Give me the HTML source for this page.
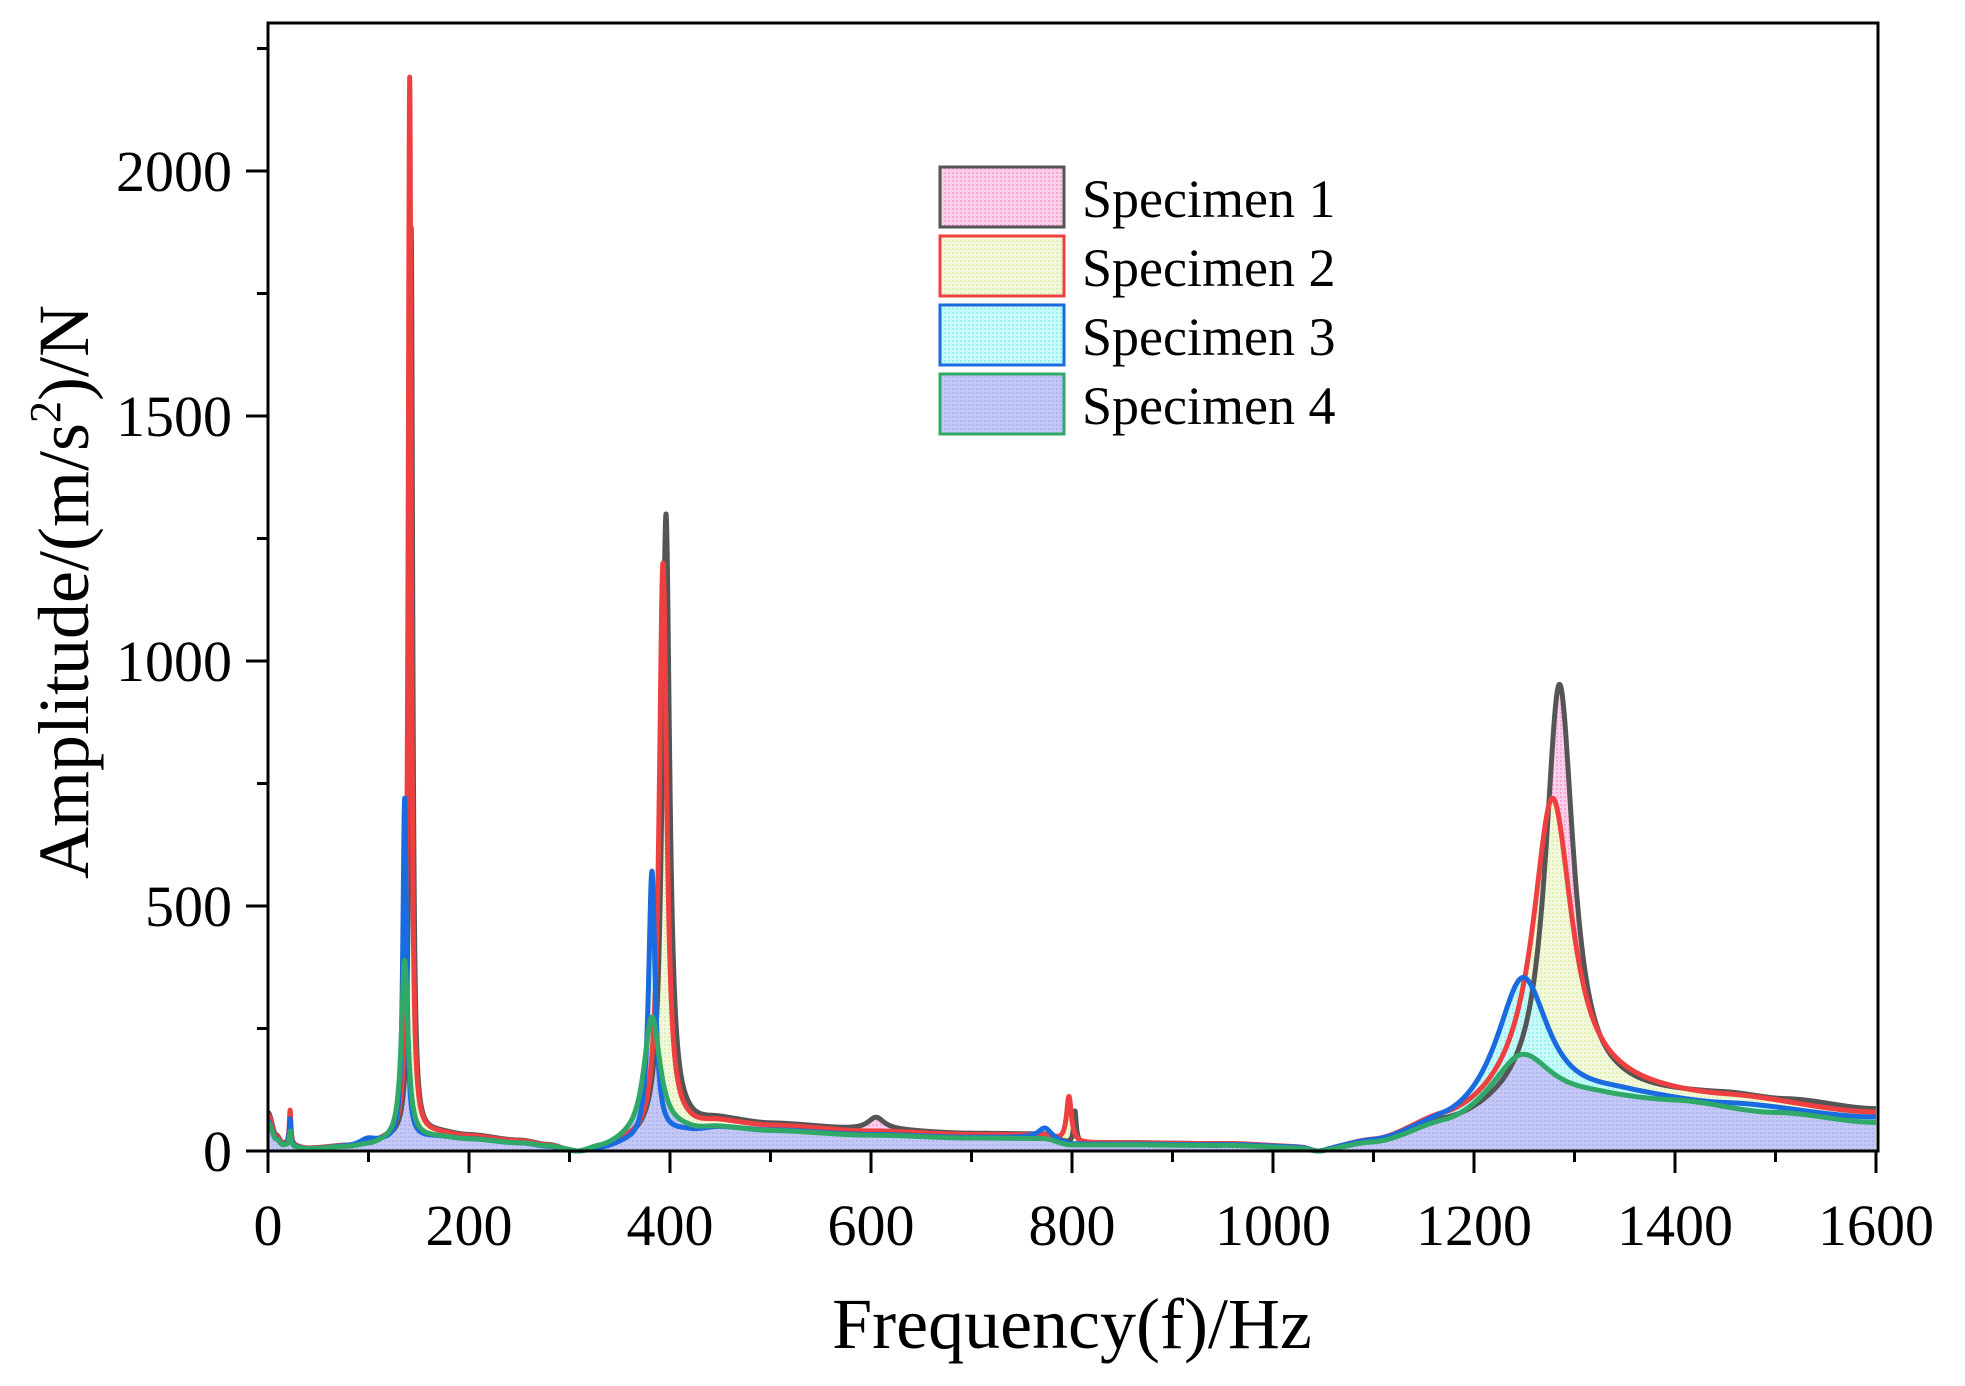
<!DOCTYPE html>
<html><head><meta charset="utf-8"><style>
html,body{margin:0;padding:0;background:#fff;}
svg{display:block;}
text{font-family:"Liberation Serif",serif;fill:#000;}
</style></head><body>
<svg id="s" width="1965" height="1386" viewBox="0 0 1965 1386" xmlns="http://www.w3.org/2000/svg">
<defs>
<pattern id="p1" width="4" height="4" patternUnits="userSpaceOnUse"><rect width="4" height="4" fill="#fbd0ea"/><rect width="2" height="2" fill="#f7a8d8"/></pattern>
<pattern id="p2" width="4" height="4" patternUnits="userSpaceOnUse"><rect width="4" height="4" fill="#f2f8dc"/><rect width="2" height="2" fill="#e2f0b8"/></pattern>
<pattern id="p3" width="4" height="4" patternUnits="userSpaceOnUse"><rect width="4" height="4" fill="#c8fafa"/><rect width="2" height="2" fill="#a0f2f2"/></pattern>
<pattern id="p4" width="4" height="4" patternUnits="userSpaceOnUse"><rect width="4" height="4" fill="#c4c8f6"/><rect width="2" height="2" fill="#b4b6ee"/></pattern>
</defs>
<g id="fills"></g>
<g id="lines"></g>
<rect x="268" y="23" width="1610" height="1128" fill="none" stroke="#000" stroke-width="3"/>
<g id="ticks" stroke="#000" stroke-width="3"></g>
<g font-size="58" text-anchor="end">
<text x="232" y="1171">0</text>
<text x="232" y="926">500</text>
<text x="232" y="681">1000</text>
<text x="232" y="436">1500</text>
<text x="232" y="191">2000</text>
</g>
<g font-size="58" text-anchor="middle">
<text x="268" y="1245">0</text>
<text x="469" y="1245">200</text>
<text x="670" y="1245">400</text>
<text x="871" y="1245">600</text>
<text x="1072" y="1245">800</text>
<text x="1273" y="1245">1000</text>
<text x="1474" y="1245">1200</text>
<text x="1675" y="1245">1400</text>
<text x="1876" y="1245">1600</text>
</g>
<text x="1072" y="1348" font-size="72" text-anchor="middle">Frequency(f)/Hz</text>
<text transform="translate(88,592) rotate(-90)" font-size="72" text-anchor="middle">Amplitude/(m/s<tspan font-size="44" dy="-28">2</tspan><tspan dy="28">)/N</tspan></text>
<g stroke-width="3">
<rect x="940" y="167" width="124" height="60" fill="url(#p1)" stroke="#555"/>
<rect x="940" y="236" width="124" height="60" fill="url(#p2)" stroke="#ee4040"/>
<rect x="940" y="305" width="124" height="60" fill="url(#p3)" stroke="#1a6be0"/>
<rect x="940" y="374" width="124" height="60" fill="url(#p4)" stroke="#30a868"/>
</g>
<g font-size="54">
<text x="1082" y="217">Specimen 1</text>
<text x="1082" y="286">Specimen 2</text>
<text x="1082" y="355">Specimen 3</text>
<text x="1082" y="424">Specimen 4</text>
</g>
</svg>
<script>
var NS="http://www.w3.org/2000/svg";
function X(f){return 268+f*1.005;}
function Y(v){return 1151-v*0.49;}
function interp(pts,f){
 if(f<=pts[0][0])return pts[0][1];
 for(var i=1;i<pts.length;i++){if(f<=pts[i][0]){var a=pts[i-1],b=pts[i];var t=(f-a[0])/(b[0]-a[0]);t=t*t*(3-2*t);return a[1]+(b[1]-a[1])*t;}}
 return pts[pts.length-1][1];
}
var baseL=[[0,60],[8,25],[15,12],[40,4],[80,8],[100,12],[120,18],[170,28],[200,24],[250,16],[280,9],[300,2],[310,0],[330,5],[360,15],[420,40],[450,48],[500,42],[600,33],[700,27],[770,26],[800,12],[850,12],[950,10],[1030,4],[1045,0]];
var S=[
 {c:"#555555",p:"url(#p1)",k:1.3,pk:[[22,40,1],[142.5,1860,1.8],[396,1270,4.5],[605,25,10],[803,65,1.5],[1285,865,17]],
  r:[[1045,0],[1100,14],[1170,50],[1250,80],[1350,112],[1450,112],[1510,102],[1600,84]]},
 {c:"#ee4040",p:"url(#p2)",k:1.2,pk:[[22,70,1],[141,2170,1.8],[393,1175,4.5],[797,95,3],[1278,635,24]],
  r:[[1045,0],[1100,14],[1170,50],[1250,80],[1350,112],[1450,105],[1600,76]]},
 {c:"#1a6be0",p:"url(#p3)",k:1.0,pk:[[22,55,1],[100,12,10],[136,700,2.2],[382,555,4],[773,20,8],[1249,285,32]],
  r:[[1045,0],[1100,12],[1170,40],[1250,70],[1350,104],[1450,92],[1600,67]]},
 {c:"#30a868",p:"url(#p4)",k:0.95,pk:[[22,30,1],[136,370,4],[382,255,10],[1249,120,38]],
  r:[[1045,0],[1100,12],[1170,42],[1250,78],[1330,100],[1400,97],[1500,76],[1600,57]]}
];
function val(s,f){
 var b= f<=1045? interp(baseL,f)*s.k : interp(s.r,f);
 var v=b;
 for(var i=0;i<s.pk.length;i++){var p=s.pk[i];var d=(f-p[0])/p[2];v+=p[1]/(1+d*d);}
 var d1=(f-308),d2=(f-1045);
 v*= (d1*d1/(d1*d1+64))*(d2*d2/(d2*d2+100));
 return Math.max(0,v);
}
var fills=document.getElementById("fills"),lines=document.getElementById("lines");
S.forEach(function(s){
 var d="";
 for(var f=0;f<=1600;f+=0.25){d+=(f===0?"M":"L")+X(f).toFixed(2)+","+Y(val(s,f)).toFixed(2);}
 var fp=document.createElementNS(NS,"path");
 fp.setAttribute("d",d+"L"+X(1600)+","+Y(0)+"L"+X(0)+","+Y(0)+"Z");
 fp.setAttribute("fill",s.p);fills.appendChild(fp);
 var lp=document.createElementNS(NS,"path");
 lp.setAttribute("d",d);lp.setAttribute("fill","none");lp.setAttribute("stroke",s.c);
 lp.setAttribute("stroke-width","5");lp.setAttribute("stroke-linejoin","round");
 lines.appendChild(lp);
});
var t=document.getElementById("ticks"),h="";
for(var f=0;f<=1600;f+=100){var x=X(f),L=(f%200==0)?22:11;h+='<line x1="'+x+'" y1="1151" x2="'+x+'" y2="'+(1151+L)+'"/>';}
for(var v=0;v<=2250;v+=250){var y=Y(v),L=(v%500==0)?22:11;h+='<line x1="268" y1="'+y+'" x2="'+(268-L)+'" y2="'+y+'"/>';}
t.innerHTML=h;
</script>
</body></html>
